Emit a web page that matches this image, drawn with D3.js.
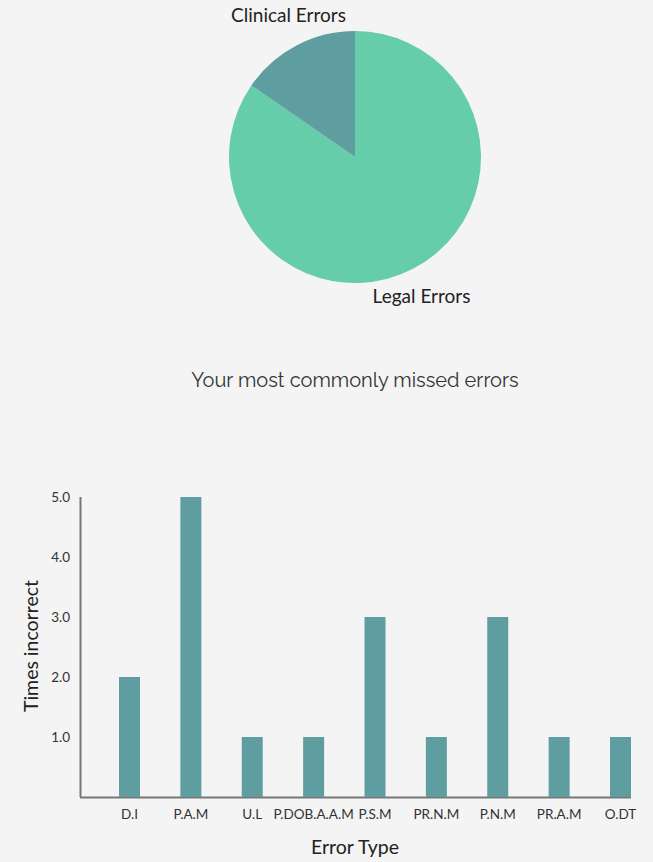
<!DOCTYPE html>
<html>
<head>
<meta charset="utf-8">
<script src="https://cdn.jsdelivr.net/npm/d3@7"></script>
<style>
  body { margin: 0; background: #f4f4f4; }
  svg { display: block; font-family: "Gill Sans", Lato, sans-serif; }
  .pie-label { font-size: 19px; fill: #222; text-anchor: middle; }
  .title { font-family: Raleway, Lato, sans-serif; font-size: 20px; fill: #333; text-anchor: middle; }
  .axis text { font-family: "Gill Sans", Lato, sans-serif; font-size: 13.5px; fill: #333; }
  .axis path, .axis line { stroke: #777; }
  .axis-title { font-size: 19.5px; fill: #222; text-anchor: middle; }
</style>
</head>
<body>
<svg width="653" height="862"></svg>
<script>
// pie data
var pieCategories = ["Legal Errors", "Clinical Errors"];
var pieValues = [11, 2];
var pieColors = ["#66cdaa", "#5f9ea0"];

// bar data
var errorTypes = ["D.I", "P.A.M", "U.L", "P.DOB.A.A.M", "P.S.M", "PR.N.M", "P.N.M", "PR.A.M", "O.DT"];
var timesIncorrect = [2, 5, 1, 1, 3, 1, 3, 1, 1];
var yTicks = [1, 2, 3, 4, 5];

var svg = d3.select("svg");

// ---- pie ----
var radius = 126;
var pieG = svg.append("g").attr("transform", "translate(355,157)");

var pieData = pieCategories.map(function(c, i){ return {name: c, value: pieValues[i], color: pieColors[i]}; });
var pie = d3.pie().value(function(d){ return d.value; });
var arc = d3.arc().innerRadius(0).outerRadius(radius);
var labelArc = d3.arc().innerRadius(159).outerRadius(159);

var slices = pieG.selectAll('.slice').data(pie(pieData)).enter().append('g')
    .attr('class', 'slice');

slices.append('path')
    .attr('d', arc)
    .attr('fill', function(d){ return d.data.color; });

// labels sit a bit closer to the vertical than the centroid
slices.append('text')
    .attr('class', 'pie-label')
    .attr('transform', function(d){
        var c = labelArc.centroid(d);
        return 'translate(' + (c[0] * 0.9) + ',' + c[1] + ')';
    })
    .attr('dy', '0.3em')
    .text(function(d){ return d.data.name; });

// ---- title ----
svg.append('text')
    .attr('class', 'title')
    .attr('x', 355)
    .attr('y', 387)
    .text('Your most commonly missed errors');

// ---- bars ----
var margin = {top: 497, left: 80, bottom: 65},
    height = 862 - margin.top - margin.bottom;

var x = d3.scaleBand().domain(errorTypes).range([39, 551]).paddingInner(0.658).paddingOuter(0),
    y = d3.scaleLinear().domain([0, 5]).range([height, 0]);

var g = svg.append('g')
    .attr('transform', 'translate(' + margin.left + ',' + margin.top + ')');

var xAxis = g.append('g')
    .attr('class', 'axis axis--x')
    .attr('transform', 'translate(0,' + height + ')')
    .call(d3.axisBottom(x).tickSize(0).tickPadding(12));
xAxis.select('.domain').attr('d', 'M0,0.5H' + x.range()[1]).attr('stroke-width', 2);

var yAxis = g.append('g')
    .attr('class', 'axis axis--y')
    .call(d3.axisLeft(y).tickValues(yTicks).tickSize(0).tickPadding(10).tickFormat(d3.format('.1f')));
yAxis.select('.domain').attr('d', 'M0.5,0V' + height).attr('stroke-width', 2);

g.selectAll('.bar').data(errorTypes).enter().append('rect')
    .attr('class', 'bar')
    .attr('fill', '#5f9ea0')
    .attr('x', function(d){ return x(d); })
    .attr('y', function(d, i){ return y(timesIncorrect[i]); })
    .attr('width', x.bandwidth())
    .attr('height', function(d, i){ return height - y(timesIncorrect[i]); });

svg.append('text')
    .attr('class', 'axis-title')
    .attr('x', 355)
    .attr('y', 854)
    .text('Error Type');

svg.append('text')
    .attr('class', 'axis-title')
    .attr('transform', 'translate(38,646) rotate(-90)')
    .text('Times incorrect');
</script>
</body>
</html>
